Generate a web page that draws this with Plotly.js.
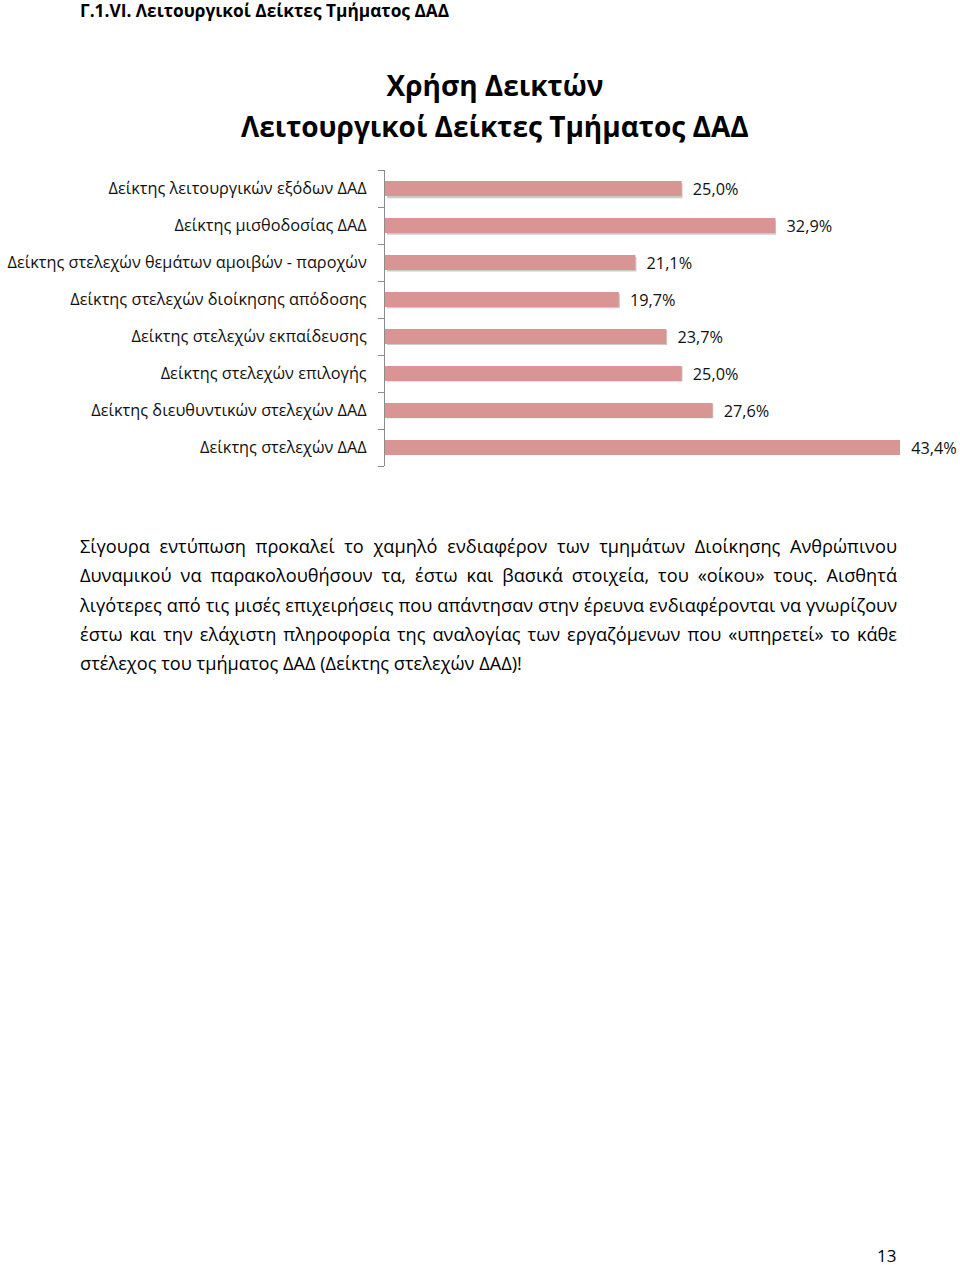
<!DOCTYPE html>
<html>
<head>
<meta charset="utf-8">
<script src="https://cdn.plot.ly/plotly-3.0.1.min.js"></script>
<style>
  html, body { margin:0; padding:0; background:#fff; }
  body { width:960px; height:1265px; position:relative; overflow:hidden; font-family:"Open Sans", "Noto Sans", sans-serif; color:#000; }
  #header { position:absolute; left:80px; top:-1px; font-size:17.3px; font-weight:bold; line-height:24px; }
  #chart { position:absolute; left:0; top:0; width:960px; height:500px; }
  #para { position:absolute; left:80px; top:532px; width:817px; font-size:18.2px; line-height:29.3px; }
  #para .ln { text-align:justify; text-align-last:justify; white-space:nowrap; }
  #para .ln.last { text-align-last:left; }
  #page { position:absolute; left:877px; top:1244px; font-size:17px; }
</style>
</head>
<body>
<div id="header">Γ.1.VI. Λειτουργικοί Δείκτες Τμήματος ΔΑΔ</div>
<div id="chart"></div>
<div id="para">
  <div class="ln">Σίγουρα εντύπωση προκαλεί το χαμηλό ενδιαφέρον των τμημάτων Διοίκησης Ανθρώπινου</div>
  <div class="ln">Δυναμικού να παρακολουθήσουν τα, έστω και βασικά στοιχεία, του «οίκου» τους. Αισθητά</div>
  <div class="ln">λιγότερες από τις μισές επιχειρήσεις που απάντησαν στην έρευνα ενδιαφέρονται να γνωρίζουν</div>
  <div class="ln">έστω και την ελάχιστη πληροφορία της αναλογίας των εργαζόμενων που «υπηρετεί» το κάθε</div>
  <div class="ln last">στέλεχος του τμήματος ΔΑΔ (Δείκτης στελεχών ΔΑΔ)!</div>
</div>
<div id="page">13</div>
<script>
const categories = [
  "Δείκτης λειτουργικών εξόδων ΔΑΔ",
  "Δείκτης μισθοδοσίας ΔΑΔ",
  "Δείκτης στελεχών θεμάτων αμοιβών - παροχών",
  "Δείκτης στελεχών διοίκησης απόδοσης",
  "Δείκτης στελεχών εκπαίδευσης",
  "Δείκτης στελεχών επιλογής",
  "Δείκτης διευθυντικών στελεχών ΔΑΔ",
  "Δείκτης στελεχών ΔΑΔ"
];
const values = [25.0, 32.9, 21.1, 19.7, 23.7, 25.0, 27.6, 43.4];
const valueLabels = ["25,0%", "32,9%", "21,1%", "19,7%", "23,7%", "25,0%", "27,6%", "43,4%"];
const chartTitle = "Χρήση Δεικτών";
const chartSubtitle = "Λειτουργικοί Δείκτες Τμήματος ΔΑΔ";

const W = 960, H = 500;
const L = 385, R = 960 - 385 - 45*11.87, T = 170, B = H - 466;
const plotW = W - L - R, plotH = H - T - B;
const dx = 2 / plotW, dy = 2.5 / plotH;
const nCat = categories.length;
const boundaries = Array.from({length: nCat + 1}, (_, i) => i - 0.5);

const fam = '"Open Sans", "Noto Sans", sans-serif';

// shadow (drawn first, on shifted hidden axes)
const shadow = {
  type: 'bar', orientation: 'h', y: categories, x: values,
  width: 0.4,
  marker: { color: 'rgba(140,140,140,0.45)' },
  hoverinfo: 'skip', showlegend: false
};
// main bars
const bars = {
  type: 'bar', orientation: 'h', y: categories, x: values,
  xaxis: 'x2', yaxis: 'y2',
  width: 0.4,
  marker: { color: '#d99594' },
  text: valueLabels.map(s => '\u2002' + s), textposition: 'outside', cliponaxis: false,
  constraintext: 'none',
  textfont: { family: fam, size: 16.3, color: '#111' },
  showlegend: false
};

const layout = {
  width: W, height: H,
  margin: { l: L, r: R, t: T, b: B },
  paper_bgcolor: 'rgba(0,0,0,0)', plot_bgcolor: 'rgba(0,0,0,0)',
  font: { family: fam, color: '#000' },
  title: {
    text: chartTitle,
    font: { family: fam, size: 28, weight: 'bold', color: '#000' },
    x: 495 / W, xanchor: 'center', xref: 'container',
    y: 1 - 86 / H, yanchor: 'middle', yref: 'container'
  },
  annotations: [{
    text: chartSubtitle, showarrow: false,
    font: { family: fam, size: 28, weight: 'bold', color: '#000' },
    xref: 'paper', yref: 'paper',
    x: (495 - L) / plotW, xanchor: 'center',
    y: 1 + (T - 126) / plotH, yanchor: 'middle'
  }],
  xaxis: { range: [0, 45], visible: false, domain: [dx, 1 + dx], anchor: 'y' },
  yaxis: {
    type: 'category', autorange: 'reversed', visible: false,
    domain: [-dy, 1 - dy], anchor: 'x'
  },
  xaxis2: { range: [0, 45], visible: false, anchor: 'y2' },
  yaxis2: {
    type: 'category', autorange: 'reversed', anchor: 'x2',
    showline: true, linecolor: '#8c8c8c', linewidth: 1,
    ticks: '', ticklabelstandoff: 14,
    tickfont: { family: fam, size: 16.3, color: '#111' },
    showgrid: false, zeroline: false
  },
  // tick marks at category boundaries
  yaxis3: {
    range: [nCat - 0.5, -0.5], overlaying: 'y2', anchor: 'x2',
    tickmode: 'array', tickvals: boundaries, showticklabels: false,
    ticks: 'outside', ticklen: 6, tickcolor: '#8c8c8c', tickwidth: 1,
    showgrid: false, zeroline: false, showline: false
  }
};

const tickHolder = {
  type: 'scatter', mode: 'markers', x: [0], y: [0], xaxis: 'x2', yaxis: 'y3',
  marker: { opacity: 0 }, hoverinfo: 'skip', showlegend: false
};

Plotly.newPlot('chart', [shadow, bars, tickHolder], layout, { staticPlot: true, displayModeBar: false });
</script>
</body>
</html>
